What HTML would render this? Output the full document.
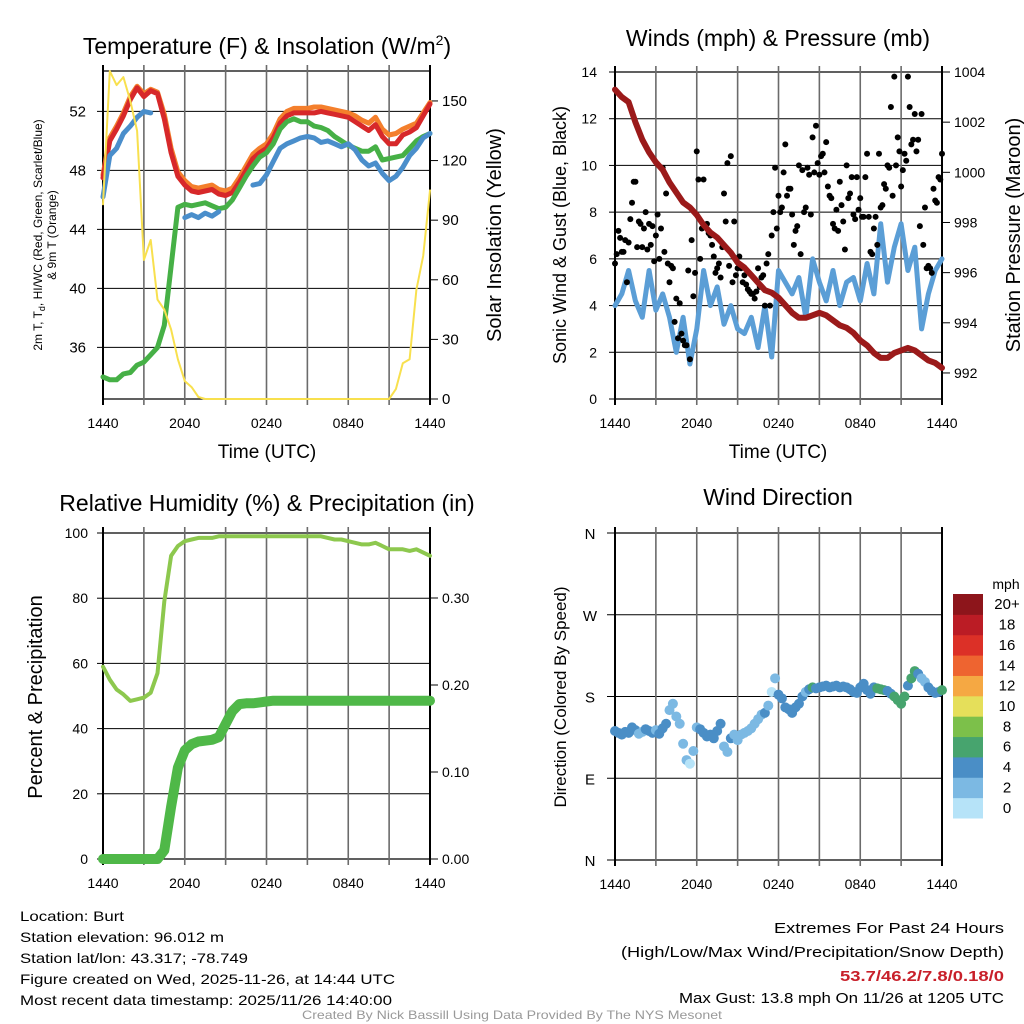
<!DOCTYPE html>
<html><head><meta charset="utf-8"><style>
html,body{margin:0;padding:0;background:#fff;}
svg{display:block;font-family:"Liberation Sans",Arial,sans-serif;}
</style></head><body>
<svg id="c" width="1024" height="1024" viewBox="0 0 1024 1024" xmlns="http://www.w3.org/2000/svg">
<!-- Titles -->
<text x="267" y="54" font-size="23" text-anchor="middle">Temperature (F) &amp; Insolation (W/m<tspan dy="-9" font-size="14">2</tspan><tspan dy="9">)</tspan></text>
<text x="778" y="46" font-size="23" text-anchor="middle">Winds (mph) &amp; Pressure (mb)</text>
<text x="267" y="511" font-size="23" text-anchor="middle">Relative Humidity (%) &amp; Precipitation (in)</text>
<text x="778" y="505" font-size="23" text-anchor="middle">Wind Direction</text>
<!-- axis titles -->
<text x="267" y="458" font-size="19" text-anchor="middle">Time (UTC)</text>
<text x="778" y="458" font-size="19" text-anchor="middle">Time (UTC)</text>
<g>
<text transform="translate(42,235) rotate(-90)" font-size="12" text-anchor="middle">2m T, T<tspan dy="3" font-size="9">d</tspan><tspan dy="-3">, HI/WC (Red, Green, Scarlet/Blue)</tspan></text>
<text transform="translate(56,235) rotate(-90)" font-size="12" text-anchor="middle">&amp; 9m T (Orange)</text>
</g>
<text transform="translate(501,235) rotate(-90)" font-size="20" text-anchor="middle">Solar Insolation (Yellow)</text>
<text transform="translate(566,235) rotate(-90)" font-size="18" text-anchor="middle">Sonic Wind &amp; Gust (Blue, Black)</text>
<text transform="translate(1020,235) rotate(-90)" font-size="20" text-anchor="middle">Station Pressure (Maroon)</text>
<text transform="translate(42,697) rotate(-90)" font-size="20" text-anchor="middle">Percent &amp; Precipitation</text>
<text transform="translate(566,697) rotate(-90)" font-size="17" text-anchor="middle">Direction (Colored By Speed)</text>
<!-- footer texts -->
<g font-size="14">
<text x="20" y="921" textLength="104" lengthAdjust="spacingAndGlyphs">Location: Burt</text>
<text x="20" y="942" textLength="204" lengthAdjust="spacingAndGlyphs">Station elevation: 96.012 m</text>
<text x="20" y="963" textLength="228" lengthAdjust="spacingAndGlyphs">Station lat/lon: 43.317; -78.749</text>
<text x="20" y="984" textLength="375" lengthAdjust="spacingAndGlyphs">Figure created on Wed, 2025-11-26, at 14:44 UTC</text>
<text x="20" y="1005" textLength="372" lengthAdjust="spacingAndGlyphs">Most recent data timestamp: 2025/11/26 14:40:00</text>
</g>
<g font-size="15">
<text x="774" y="933" textLength="230" lengthAdjust="spacingAndGlyphs">Extremes For Past 24 Hours</text>
<text x="621" y="957" textLength="383" lengthAdjust="spacingAndGlyphs">(High/Low/Max Wind/Precipitation/Snow Depth)</text>
<text x="840" y="981" textLength="164" lengthAdjust="spacingAndGlyphs" fill="#c8202a" font-weight="bold">53.7/46.2/7.8/0.18/0</text>
<text x="679" y="1003" textLength="325" lengthAdjust="spacingAndGlyphs">Max Gust: 13.8 mph On 11/26 at 1205 UTC</text>
</g>
<text x="302" y="1019" font-size="12" fill="#999" textLength="420" lengthAdjust="spacingAndGlyphs">Created By Nick Bassill Using Data Provided By The NYS Mesonet</text>
<g id="plots"></g>
</svg>
<script>
// ===== data (half-hourly unless noted; hours after 1440 UTC) =====
const xTickLabels = ["1440","2040","0240","0840","1440"];
const tempTicks = [36,40,44,48,52];
const solarTicks = [0,30,60,90,120,150];
const windTicks = [0,2,4,6,8,10,12,14];
const presTicks = [992,994,996,998,1000,1002,1004];
const rhTicks = [0,20,40,60,80,100];
const precipTicks = [0.00,0.10,0.20,0.30];
const dirTickLabels = ["N","E","S","W","N"];
const dirTickDeg = [0,90,180,270,360];
const speedBins = ["0","2","4","6","8","10","12","14","16","18","20+"];
const speedColors = ["#b6e3f8","#7cb9e3","#4a8ec6","#47a46e","#7cc04a","#e5df5a","#f5a843","#ee6430","#dc3027","#bb1c25","#8d151b"];

const temp2m = [47.5,50,50.8,51.7,52.8,53.6,53.0,53.4,53.2,51.5,49.2,47.6,47.0,46.6,46.5,46.6,46.7,46.4,46.3,46.5,47.2,48.0,48.8,49.2,49.5,50.2,51.2,51.7,51.9,51.9,51.9,51.9,52.0,51.9,51.8,51.7,51.6,51.3,51.0,50.7,51.1,50.3,49.8,49.8,50.4,50.6,50.9,51.7,52.5];
const temp9m = [47.7,50.2,51.0,51.9,53.0,53.7,53.2,53.5,53.3,51.8,49.5,47.9,47.3,46.9,46.8,46.9,47.0,46.7,46.6,46.8,47.5,48.3,49.1,49.5,49.8,50.5,51.5,52.0,52.2,52.2,52.2,52.3,52.3,52.2,52.1,52.0,51.9,51.7,51.4,51.2,51.6,50.8,50.4,50.5,50.8,51.0,51.2,51.9,52.6];
const dewpoint = [34,33.8,33.8,34.2,34.3,34.8,35.0,35.5,36.0,37.5,41.5,45.5,45.7,45.6,45.7,45.8,45.6,45.4,45.5,46.0,46.8,47.6,48.3,48.9,49.2,49.8,50.8,51.3,51.5,51.3,51.3,51.0,50.9,50.7,50.3,50.0,49.7,49.5,49.3,49.3,49.6,48.7,48.8,48.9,49.0,49.5,50.0,50.3,50.5];
const heatIndex = [46.2,49.0,49.5,50.5,51.0,51.6,52.0,51.9,null,null,null,null,44.8,45.0,44.8,45.1,44.9,45.2,null,null,null,null,47.0,47.1,47.7,48.6,49.5,49.8,50.0,50.2,50.3,50.2,49.9,50.0,49.8,49.6,49.8,49.4,48.7,48.3,48.5,47.8,47.3,47.6,48.2,49.0,49.5,50.2,50.5];
const solar = [98,165,158,162,150,135,70,80,50,45,35,20,9,6,1,0,0,0,0,0,0,0,0,0,0,0,0,0,0,0,0,0,0,0,0,0,0,0,0,0,0,0,0,5,18,20,55,72,105];

const pressure = [1003.3,1003.0,1002.8,1002.0,1001.3,1000.8,1000.4,1000.1,999.6,999.2,998.8,998.6,998.3,997.9,997.6,997.4,997.1,996.8,996.4,996.2,995.9,995.6,995.3,995.2,995.0,994.7,994.4,994.2,994.2,994.3,994.4,994.3,994.1,993.9,993.8,993.6,993.3,993.1,992.8,992.6,992.6,992.8,992.9,993.0,992.9,992.7,992.5,992.4,992.2];
const sonicWind = [4,4.5,5.5,4.2,3.5,5.5,3.8,4.5,3.5,2,3.5,1.5,3,5.5,4,4.8,3.2,4,3,2.8,3.5,2.2,4,1.8,5.5,5,4.5,5.2,3.5,6,5,4.2,5.5,4,5,5.2,4.2,5.8,4.5,7.5,5,6.5,7.5,5.5,6.5,3,4.5,5.5,6];
// gusts every 15 min, and offset set at +7.5 min
const gustsA = [5.8,7.2,6.3,6.8,6.7,8.4,9.3,7.6,6.5,8.0,7.5,7.4,7.0,6.0,9.9,8.8,5.0,5.6,4.3,4.1,2.5,2.3,1.7,4.4,10.6,6.0,9.4,7.5,7.0,6.1,5.6,5.2,8.8,10.1,10.4,7.6,5.6,5.6,5.3,4.7,4.5,4.3,5.6,5.2,4.0,6.2,7.0,9.9,8.7,8.2,10.9,9.0,7.9,7.2,10.0,9.8,8.2,9.6,11.2,11.7,9.6,10.5,11.0,8.7,7.5,8.1,9.3,7.6,10.0,8.8,7.9,9.5,8.6,7.8,10.5,6.3,7.3,6.6,8.2,9.2,10.0,12.5,13.8,11.2,9.1,10.5,13.8,10.9,12.2,11.1,12.2,8.2,5.7,5.4,8.5,9.5,10.5];
const gustsB = [6.2,6.9,6.3,5.0,7.7,9.3,6.5,7.5,7.3,6.4,6.6,5.9,7.9,7.3,6.3,5.8,5.7,3.3,2.6,2.8,2.3,5.5,6.8,5.4,9.4,7.3,7.4,7.1,6.6,5.4,5.8,6.5,7.6,5.7,5.0,5.3,6.1,5.0,4.9,4.6,4.5,4.6,4.8,5.3,5.8,4.0,8.0,7.3,8.0,9.7,8.7,9.0,6.6,7.4,6.2,8.0,9.9,7.9,9.7,10.1,10.4,9.7,9.1,8.6,7.3,7.2,8.3,6.4,8.6,9.5,7.7,8.1,7.8,9.5,7.8,6.2,7.8,10.5,8.3,9.0,9.9,8.7,10.0,10.6,9.8,10.2,12.5,11.1,10.6,7.4,6.6,5.6,5.6,9.0,8.4,9.4];

const rh = [59,55,52,50.5,48.5,49,49.5,51,57,79,93,96,97.5,98,98.5,98.5,98.5,99,99,99,99,99,99,99,99,99,99,99,99,99,99,99,99,98.5,98,98,97.5,97,96.5,96.5,97,96,95,95,95,94.5,95,94,93];
const precip = [0,0,0,0,0,0,0,0,0,0.01,0.06,0.105,0.125,0.132,0.135,0.136,0.137,0.14,0.155,0.17,0.178,0.179,0.179,0.18,0.181,0.182,0.182,0.182,0.182,0.182,0.182,0.182,0.182,0.182,0.182,0.182,0.182,0.182,0.182,0.182,0.182,0.182,0.182,0.182,0.182,0.182,0.182,0.182,0.182];
// wind direction every 15 min (degrees)
const windDir = [142,140,138,141,140,146,143,139,141,144,142,140,143,139,145,150,165,172,158,150,128,110,106,120,146,144,140,136,138,134,142,150,125,119,134,138,132,138,140,142,145,150,155,160,162,170,185,200,182,178,168,166,162,168,172,180,185,188,190,189,190,191,192,190,191,192,190,191,190,188,185,184,190,194,187,183,190,189,188,187,186,183,180,176,172,180,192,200,208,205,200,196,190,186,184,185,187];

// ===== drawing =====
const NS = "http://www.w3.org/2000/svg";
const root = document.getElementById("plots");
function el(tag, attrs, parent){const e=document.createElementNS(NS,tag);for(const k in attrs)e.setAttribute(k,attrs[k]);(parent||root).appendChild(e);return e;}
function txt(x,y,s,size,anchor,parent){const t=el("text",{x:x,y:y,"font-size":size,"text-anchor":anchor||"middle"},parent);t.textContent=s;return t;}

const P1={x0:103,x1:430,y0:71,y1:399}, P2={x0:615,x1:942,y0:72,y1:399},
      P3={x0:103,x1:430,y0:533,y1:859}, P4={x0:615,x1:942,y0:533,y1:860};
const xs=(p,t)=>p.x0+t/24*(p.x1-p.x0);
const tempY=v=>399-(v-32.5)*14.75, solarY=v=>399-v*1.987;
const windY=v=>399-v*(327/14), presY=v=>72+(1004-v)*25.08;
const rhY=v=>859-v*3.26, prY=v=>859-v*870;
const dirY=v=>860-v*327/360;

function frame(p,name,hTicksY){
  const g=el("g",{});
  
  
  hTicksY.forEach(y=>el("line",{x1:p.x0,x2:p.x1,y1:y,y2:y,stroke:"#000","stroke-width":1},g));
  el("line",{x1:p.x0,x2:p.x1,y1:p.y0,y2:p.y0,stroke:"#000","stroke-width":1.2},g);
  el("line",{x1:p.x0,x2:p.x1,y1:p.y1,y2:p.y1,stroke:"#000","stroke-width":1.2},g);
  for(let i=0;i<=8;i++){const x=xs(p,i*3);el("line",{x1:x,x2:x,y1:p.y0-6,y2:p.y1+6,stroke:"#6b6b6b","stroke-width":1.6},g);}
  el("line",{x1:p.x0,x2:p.x0,y1:p.y0-6,y2:p.y1+6,stroke:"#000","stroke-width":2},g);
  el("line",{x1:p.x1,x2:p.x1,y1:p.y0-6,y2:p.y1+6,stroke:"#000","stroke-width":2},g);
  xTickLabels.forEach((s,i)=>{txt(xs(p,i*6),p.y1+29,s,14,"middle",g);});
  return g;
}
function line(p,arr,step,yf,color,w,name){
  let d="",pen=false;
  arr.forEach((v,i)=>{if(v===null){pen=false;return;}const x=xs(p,i*step),y=yf(v);d+=(pen?"L":"M")+x.toFixed(1)+" "+y.toFixed(1)+" ";pen=true;});
  const e=el("path",{d:d,fill:"none",stroke:color,"stroke-width":w,"stroke-linejoin":"round","stroke-linecap":"round"});
  
  
  return e;
}
function leftLabels(p,vals,yf,fmt,x,size){vals.forEach(v=>{txt(x,yf(v)+5,fmt(v),size,"end");el("line",{x1:p.x0-6,x2:p.x0,y1:yf(v),y2:yf(v),stroke:"#000"});});}
function rightLabels(p,vals,yf,fmt,x,size){vals.forEach(v=>{txt(x,yf(v)+5,fmt(v),size,"start");el("line",{x1:p.x1,x2:p.x1+8,y1:yf(v),y2:yf(v),stroke:"#000"});});}

// Panel 1
frame(P1,"temperature",tempTicks.map(tempY));
leftLabels(P1,tempTicks,tempY,v=>String(v),86,15);
rightLabels(P1,solarTicks,solarY,v=>String(v),442,15);
line(P1,temp9m,0.5,tempY,"#f47f2c",5,"temp-9m-line");
line(P1,temp2m,0.5,tempY,"#d7282a",5,"temp-2m-line");
line(P1,dewpoint,0.5,tempY,"#46b046",5,"dewpoint-line");
line(P1,heatIndex,0.5,tempY,"#4a8ecb",5,"heat-index-line");
line(P1,solar,0.5,solarY,"#f8e04e",2,"solar-line");

// Panel 2
frame(P2,"winds",windTicks.map(windY));
leftLabels(P2,windTicks,windY,v=>String(v),597,14);
rightLabels(P2,presTicks,presY,v=>String(v),954,14);
line(P2,sonicWind,0.5,windY,"#5b9ed6",5,"sonic-wind-line");
const gg=el("g",{});


gustsA.forEach((v,i)=>{const c=el("circle",{cx:xs(P2,i*0.25),cy:windY(v),r:3,fill:"#000"},gg);});
gustsB.forEach((v,i)=>{const c=el("circle",{cx:xs(P2,0.125+i*0.25),cy:windY(v),r:3,fill:"#000"},gg);});
line(P2,pressure,0.5,presY,"#9b1a1a",6,"pressure-line");

// Panel 3
frame(P3,"humidity",rhTicks.map(rhY));
leftLabels(P3,rhTicks,rhY,v=>String(v),88,14);
rightLabels(P3,precipTicks,prY,v=>v.toFixed(2),442,14);
line(P3,rh,0.5,rhY,"#8dc84e",4,"rh-line");
line(P3,precip,0.5,prY,"#4fb848",10,"precip-line");

// Panel 4
frame(P4,"direction",dirTickDeg.map(dirY));
dirTickDeg.forEach((d,i)=>{txt(590,dirY(d)+6,dirTickLabels[i],15,"middle");el("line",{x1:P4.x0-8,x2:P4.x0,y1:dirY(d),y2:dirY(d),stroke:"#000"});});
function speedAt(t){const f=t/0.5,i=Math.floor(f),r=f-i;const a=sonicWind[Math.min(i,sonicWind.length-1)],b=sonicWind[Math.min(i+1,sonicWind.length-1)];return a+(b-a)*r;}
const dg=el("g",{});


windDir.forEach((d,i)=>{const t=i*0.25;const s=speedAt(t);const k=Math.min(10,Math.max(0,Math.floor(s/2)));
  const c=el("circle",{cx:xs(P4,t),cy:dirY(d),r:5,fill:speedColors[k]},dg);
  
  });
// colorbar
const lg=el("g",{});


txt(1006,589,"mph",14,"middle",lg);
const bh=224/11;
speedBins.forEach((s,i)=>{const y=594+(10-i)*bh;
  const r=el("rect",{x:953,y:y,width:30,height:bh+0.5,fill:speedColors[i]},lg);
  
  
  txt(1007,y+bh/2+5,s,15,"middle",lg);});
</script>
</body></html>
